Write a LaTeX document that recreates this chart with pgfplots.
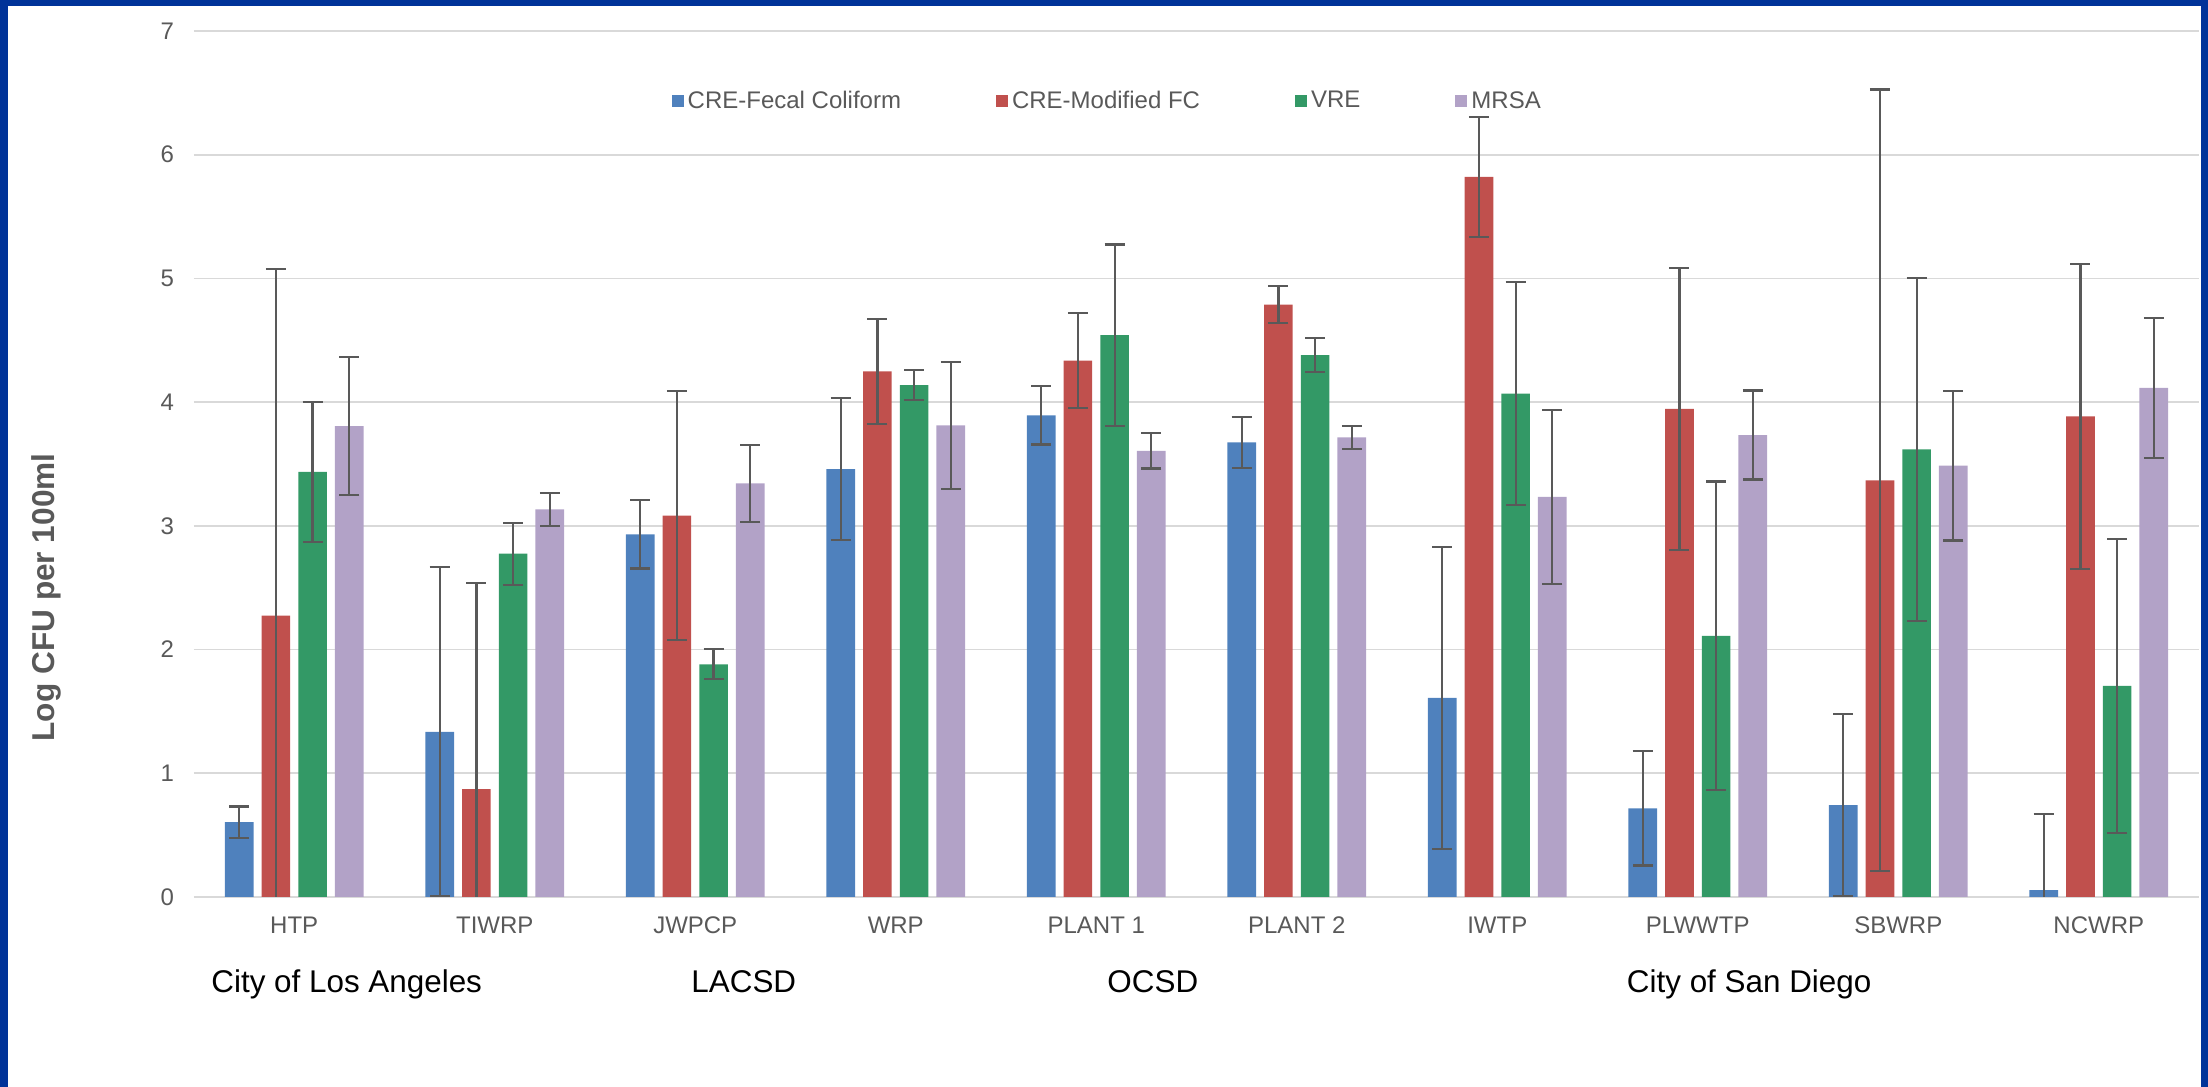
\documentclass[border=0pt]{standalone}
\usepackage{fontspec}
\setmainfont{Liberation Sans}
\usepackage{pgfplots}
\usepackage{pgfplotstable}
\pgfplotsset{compat=1.18}
\definecolor{cblue}{HTML}{4F81BD}
\definecolor{cred}{HTML}{C0504D}
\definecolor{cgreen}{HTML}{339966}
\definecolor{cpurple}{HTML}{B2A2C7}
\definecolor{cgray}{HTML}{595959}
\definecolor{cgrid}{HTML}{D9D9D9}
\definecolor{cframe}{HTML}{003399}

\pgfplotstableread{
x y e
0 0.606 0.126
1 1.335 1.330
2 2.931 0.275
3 3.459 0.573
4 3.894 0.236
5 3.674 0.206
6 1.610 1.220
7 0.716 0.461
8 0.743 0.739
9 0.055 0.615
}\tblue
\pgfplotstableread{
x y e
0 2.275 2.800
1 0.872 1.665
2 3.083 1.005
3 4.248 0.422
4 4.335 0.383
5 4.789 0.149
6 5.821 0.487
7 3.945 1.138
8 3.367 3.160
9 3.885 1.234
}\tred
\pgfplotstableread{
x y e
0 3.436 0.567
1 2.775 0.250
2 1.881 0.122
3 4.138 0.120
4 4.541 0.734
5 4.381 0.138
6 4.069 0.900
7 2.110 1.248
8 3.619 1.385
9 1.706 1.190
}\tgreen
\pgfplotstableread{
x y e
0 3.807 0.560
1 3.133 0.135
2 3.344 0.312
3 3.812 0.514
4 3.606 0.142
5 3.716 0.094
6 3.234 0.704
7 3.734 0.360
8 3.486 0.605
9 4.115 0.564
}\tpurple

\pgfplotsset{
  mybar/.style={ybar, bar width=0.143, bar shift=0pt, draw=none,
    error bars/y dir=both, error bars/y explicit,
    error bars/error bar style={cgray, line width=1.1pt},
    error bars/error mark options={cgray, line width=1.1pt, mark size=5pt, rotate=90}},
}

\begin{document}
\begin{tikzpicture}
\path[use as bounding box] (-97pt,-95pt) rectangle (1007pt,448.5pt);
\begin{axis}[
  at={(0,0)}, anchor=south west,
  scale only axis, width=1002.5pt, height=433pt,
  xmin=-0.5, xmax=9.5, ymin=0, ymax=7,
  xtick={0,...,9},
  xticklabels={HTP,TIWRP,JWPCP,WRP,PLANT 1,PLANT 2,IWTP,PLWWTP,SBWRP,NCWRP},
  ytick={0,...,7},
  ymajorgrids, grid style={cgrid, line width=0.8pt},
  axis line style={draw=none},
  tick style={draw=none},
  major tick length=0pt,
  tick label style={font=\fontsize{12}{14}\selectfont, text=cgray},
  /pgf/number format/assume math mode=true,
  xticklabel style={yshift=-6.5pt},
  yticklabel style={xshift=-6.5pt},
  ylabel={Log CFU per 100ml},
  ylabel style={at={(axis description cs:-0.0738,0.346)}, anchor=center,
    font=\bfseries\fontsize{15.8}{18}\selectfont, text=cgray},
  clip mode=individual,
  legend columns=4,
  legend style={at={(0.456,0.919)}, anchor=center, draw=none, fill=none,
    font=\fontsize{12}{14}\selectfont, text=cgray,
    /tikz/every odd column/.append style={column sep=0pt},
    /tikz/every even column/.append style={column sep=45.5pt},
    nodes={inner xsep=2pt}},
  legend image code/.code={\fill[#1] (0pt,-3pt) rectangle (6pt,3pt);},
]
\addplot[fill=cblue, mybar]
  table[x expr=\thisrow{x}-0.2745, y=y, y error=e] {\tblue};
\addplot[fill=cred, mybar]
  table[x expr=\thisrow{x}-0.0915, y=y, y error=e] {\tred};
\addplot[fill=cgreen, mybar]
  table[x expr=\thisrow{x}+0.0915, y=y, y error=e] {\tgreen};
\addplot[fill=cpurple, mybar]
  table[x expr=\thisrow{x}+0.2745, y=y, y error=e] {\tpurple};
\legend{CRE-Fecal Coliform, CRE-Modified FC, VRE, MRSA}
\node[anchor=base west, inner sep=0pt, font=\fontsize{15.7}{18}\selectfont] at (axis cs:-0.415,-0.768) {City of Los Angeles};
\node[anchor=base west, inner sep=0pt, font=\fontsize{15.7}{18}\selectfont] at (axis cs:1.979,-0.768) {LACSD};
\node[anchor=base west, inner sep=0pt, font=\fontsize{15.7}{18}\selectfont] at (axis cs:4.054,-0.768) {OCSD};
\node[anchor=base west, inner sep=0pt, font=\fontsize{15.7}{18}\selectfont] at (axis cs:6.645,-0.768) {City of San Diego};
\end{axis}
\fill[cframe] (-97pt,-95pt) rectangle (-93pt,448.5pt);
\fill[cframe] (-97pt,445.5pt) rectangle (1007pt,448.5pt);
\fill[cframe] (1003.5pt,-95pt) rectangle (1007pt,448.5pt);
\end{tikzpicture}
\end{document}
